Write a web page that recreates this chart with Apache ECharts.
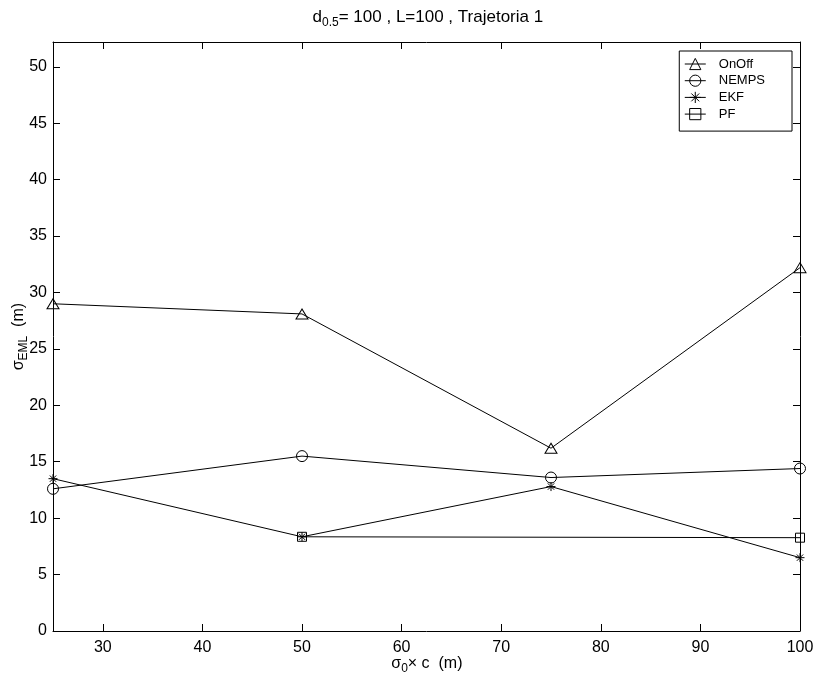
<!DOCTYPE html>
<html>
<head>
<meta charset="utf-8">
<script src="https://cdn.jsdelivr.net/npm/echarts@6/dist/echarts.min.js"></script>
<style>
  html, body { margin: 0; padding: 0; background: #fff; }
  #chart { width: 817px; height: 684px; }
</style>
</head>
<body>
<div id="chart"></div>
<script>
// sigma_0 x c values (m) and the EML standard deviation for each tracker
const sigmaC = [25, 50, 75, 100];
const onOff = [29.0, 28.1, 16.2, 32.2];
const nemps = [12.6, 15.5, 13.6, 14.4];
const ekf = [13.5, 8.35, 12.8, 6.5];
const pfX = [50, 100];
const pf = [8.35, 8.27];

const seriesNames = ['OnOff', 'NEMPS', 'EKF', 'PF'];
const xTicks = [30, 40, 50, 60, 70, 80, 90, 100];
const yTicks = [0, 5, 10, 15, 20, 25, 30, 35, 40, 45, 50];

const FONT = "'Liberation Sans', Arial, Helvetica, sans-serif";
const pairs = (xs, ys) => xs.map((x, i) => [x, ys[i]]);
const asterisk = 'path://M0,-1L0,1M-1,0L1,0M-0.7,-0.7L0.7,0.7M-0.7,0.7L0.7,-0.7';

function lineSeries(name, data, symbol, size) {
  return {
    type: 'line',
    name: name,
    data: data,
    symbol: symbol,
    symbolSize: size,
    showAllSymbol: true,
    clip: false,
    lineStyle: { color: '#000', width: 1 },
    itemStyle: { color: 'rgba(255,255,255,0)', borderColor: '#000', borderWidth: 1 },
    emphasis: { disabled: true },
    animation: false
  };
}

// rich-text pieces: main text, subscript, and a thin spacer that sets the line box
function richStyle(mainSize, subSize, spacer) {
  return {
    m: { fontSize: mainSize, lineHeight: mainSize, verticalAlign: 'top', fontFamily: FONT, fill: '#000' },
    s: { fontSize: subSize, lineHeight: subSize, verticalAlign: 'bottom', fontFamily: FONT, fill: '#000' },
    p: { fontSize: 1, lineHeight: spacer, fontFamily: FONT, fill: '#000' }
  };
}

function frameAxis(position, isX, showLabels, ticks) {
  return {
    type: 'value',
    position: position,
    min: isX ? 25 : 0,
    max: isX ? 100 : 52.2,
    axisLine: { show: true, onZero: false, lineStyle: { color: '#000', width: 1 } },
    axisTick: { show: true, inside: true, length: 7, customValues: ticks, lineStyle: { color: '#000', width: 1 } },
    axisLabel: showLabels
      ? { show: true, customValues: ticks, color: '#000', fontSize: 16, fontFamily: FONT, margin: isX ? 9 : 6 }
      : { show: false },
    splitLine: { show: false }
  };
}

const chart = echarts.init(document.getElementById('chart'), null, { renderer: 'canvas' });
chart.setOption({
  animation: false,
  backgroundColor: '#fff',
  grid: { left: 53, right: 17, top: 42, bottom: 53 },
  xAxis: [
    frameAxis('bottom', true, true, xTicks),
    frameAxis('top', true, false, xTicks)
  ],
  yAxis: [
    frameAxis('left', false, true, yTicks),
    frameAxis('right', false, false, yTicks)
  ],
  legend: {
    data: seriesNames,
    orient: 'vertical',
    right: 25,
    top: 51,
    itemWidth: 21,
    itemHeight: 14,
    itemGap: 2.7,
    padding: [6, 27, 10, 5],
    backgroundColor: '#fff',
    borderColor: '#000',
    borderWidth: 1,
    borderRadius: 0,
    selectedMode: false,
    itemStyle: { borderWidth: 1 },
    lineStyle: { width: 1 },
    textStyle: { fontFamily: FONT, fontSize: 13, color: '#000', lineHeight: 14, padding: [0, 0, 0, 8] }
  },
  series: [
    lineSeries('OnOff', pairs(sigmaC, onOff), 'triangle', [12, 10]),
    lineSeries('NEMPS', pairs(sigmaC, nemps), 'circle', 11),
    lineSeries('EKF', pairs(sigmaC, ekf), asterisk, 9),
    lineSeries('PF', pairs(pfX, pf), 'rect', 9)
  ],
  graphic: [
    {
      type: 'text', x: 428, y: 8.5, silent: true,
      style: {
        text: '{m|d}{s|0.5}{m|= 100 , L=100 , Trajetoria 1}{p| }',
        align: 'center', verticalAlign: 'top', rich: richStyle(17, 12, 20)
      }
    },
    {
      type: 'text', x: 427, y: 656, silent: true,
      style: {
        text: '{m|σ}{s|0}{m|× c  (m)}{p| }',
        align: 'center', verticalAlign: 'top', rich: richStyle(16, 12, 19)
      }
    },
    {
      type: 'text', x: 10.5, y: 336.5, rotation: Math.PI / 2, silent: true,
      style: {
        text: '{m|σ}{s|EML}{m|  (m)}{p| }',
        align: 'center', verticalAlign: 'top', rich: richStyle(16, 12, 19)
      }
    }
  ]
});
</script>
</body>
</html>
